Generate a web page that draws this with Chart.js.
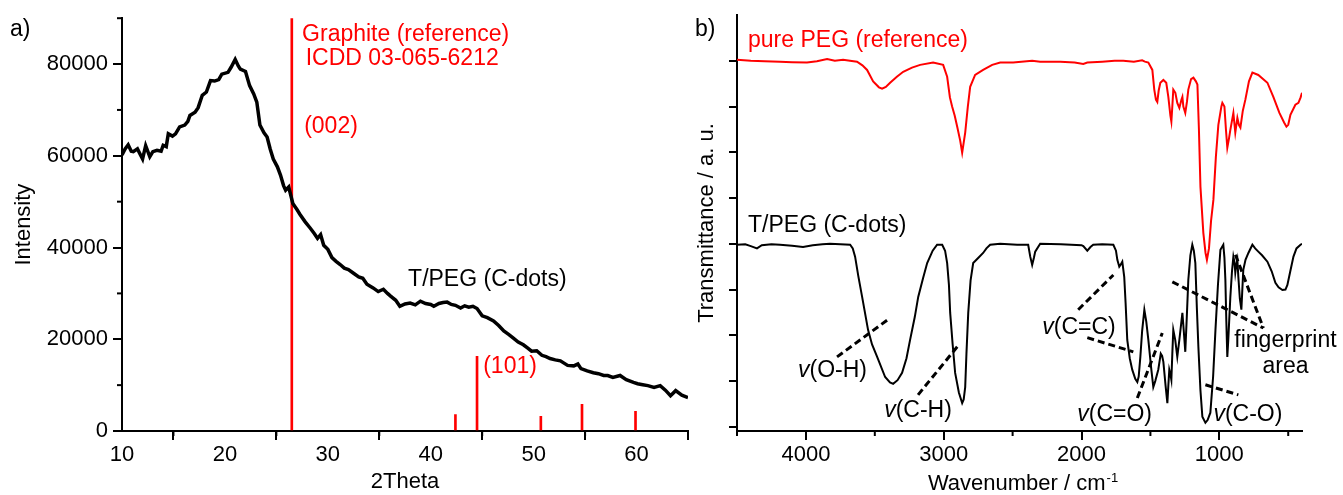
<!DOCTYPE html>
<html>
<head>
<meta charset="utf-8">
<script src="https://cdn.jsdelivr.net/npm/chart.js@4/dist/chart.umd.min.js"></script>
<style>
html, body { margin: 0; padding: 0; background: #fff; }
#xrd { position: absolute; left: 0; top: 0; }
#ftir { position: absolute; left: 690px; top: 0; }
</style>
</head>
<body>
<canvas id="xrd" width="700" height="495"></canvas>
<canvas id="ftir" width="653" height="495"></canvas>
<script>
// ---- a) XRD pattern ----
var xrdTheta = [10.0, 10.3, 10.6, 10.9, 11.1, 11.5, 12.0, 12.3, 12.7, 13.0, 13.4, 13.8, 14.0, 14.3, 14.5, 14.9,
  15.2, 15.6, 16.1, 16.4, 16.6, 17.1, 17.4, 17.8, 18.2, 18.6, 19.0, 19.4, 19.7, 20.3, 20.6, 21.0, 21.3, 21.5,
  22.0, 22.4, 22.8, 23.1, 23.4, 23.8, 24.1, 24.4, 24.7, 25.1, 25.4, 25.7, 25.9, 26.2, 26.6, 27.0, 27.3, 27.8,
  28.3, 28.7, 29.0, 29.3, 29.6, 30.0, 30.4, 30.8, 31.2, 31.6, 32.0, 32.5, 33.0, 33.4, 33.8, 34.4, 34.9, 35.4,
  35.8, 36.1, 36.6, 37.0, 37.5, 38.0, 38.5, 39.0, 39.5, 40.0, 40.3, 40.8, 41.2, 41.6, 42.0, 42.4, 42.9, 43.3,
  43.7, 44.1, 44.5, 45.0, 45.5, 46.1, 46.6, 47.1, 47.6, 48.0, 48.5, 49.0, 49.4, 49.8, 50.3, 50.8, 51.2, 51.6,
  52.1, 52.6, 53.3, 53.9, 54.3, 54.6, 55.2, 55.8, 56.3, 56.8, 57.2, 57.7, 58.4, 59.0, 59.7, 60.1, 60.6, 61.1,
  61.7, 62.3, 62.8, 63.3, 63.8, 64.4, 65.0];
var xrdIntensity = [60200, 61500, 62400, 61000, 60900, 61500, 59300, 62200, 59800, 60900, 61200, 61000, 62300, 62000, 64800, 64300,
  64800, 66300, 66700, 67500, 68800, 69500, 70500, 73200, 73900, 76400, 76300, 76600, 77800, 78200, 79300, 81000, 79600, 78900,
  78400, 75300, 73500, 71700, 66700, 65000, 64100, 61500, 59300, 57600, 55800, 53500, 52500, 53200, 49600, 48300, 47200, 45600,
  44200, 43000, 42000, 42800, 40500, 39600, 37800, 37000, 36300, 35500, 35200, 34400, 33600, 33300, 32000, 31200, 30400, 30900,
  30000, 29400, 28500, 27200, 27700, 27900, 27500, 28300, 27800, 27600, 27200, 27800, 28000, 28100, 27600, 27400, 26800, 27300,
  27000, 27200, 26700, 25100, 24700, 24000, 23000, 21800, 21000, 20300, 19400, 18800, 18100, 17400, 17500, 16500, 16200, 15800,
  15500, 15300, 14300, 14200, 14600, 13600, 13100, 12700, 12500, 12100, 12100, 11700, 12100, 11200, 10600, 10300, 10100, 9900,
  9500, 9900, 8900, 7700, 8800, 7800, 7300];
// graphite reference sticks (ICDD 03-065-6212)
var refTheta = [26.5, 42.4, 44.5, 50.7, 54.7, 59.9];
var refHeight = [90000, 3600, 16300, 3200, 5800, 4300];
var xrdXTicks = [10, 20, 30, 40, 50, 60];
var xrdXMinor = [15, 25, 35, 45, 55, 65];
var xrdYTicks = [0, 20000, 40000, 60000, 80000];
var xrdYMinor = [10000, 30000, 50000, 70000, 90000];

// ---- b) FTIR spectra ----
var pegWave = [4500, 4400, 4300, 4188, 4100, 3992, 3920, 3846, 3790, 3730, 3680, 3629, 3590, 3556, 3512, 3470, 3447, 3420,
  3389, 3340, 3294, 3230, 3171, 3077, 3004, 2975, 2955, 2939, 2920, 2902, 2880, 2866, 2844, 2825, 2808, 2772, 2714, 2648,
  2590, 2496, 2358, 2300, 2154, 2050, 1987, 1958, 1850, 1760, 1697, 1620, 1560, 1540, 1515, 1486, 1472, 1460, 1450, 1440,
  1428, 1406, 1385, 1370, 1355, 1348, 1341, 1334, 1319, 1305, 1290, 1275, 1268, 1261, 1247, 1235, 1225, 1205, 1188, 1170,
  1159, 1148, 1137, 1116, 1100, 1090, 1075, 1060, 1043, 1025, 1007, 985, 978, 963, 952, 942, 930, 920, 898, 884, 869, 858,
  847, 830, 811, 785, 760, 717, 651, 608, 564, 530, 513, 500, 484, 448, 426, 410, 400];
var pegTrans = [8.02, 8.0, 7.99, 7.98, 7.97, 7.96, 7.99, 8.04, 8.0, 8.02, 8.0, 7.98, 7.9, 7.8, 7.55, 7.42, 7.39, 7.43,
  7.52, 7.65, 7.76, 7.85, 7.91, 7.96, 7.91, 7.65, 7.2, 7.0, 6.8, 6.56, 6.25, 5.99, 6.43, 7.0, 7.43, 7.69, 7.8, 7.91,
  7.96, 7.96, 8.0, 7.98, 7.98, 7.96, 7.93, 7.96, 7.98, 8.0, 8.0, 7.98, 8.01, 7.98, 7.96, 7.8, 7.37, 7.15, 7.1, 7.35,
  7.52, 7.58, 7.52, 7.21, 6.8, 6.67, 7.0, 7.37, 7.3, 7.08, 6.97, 7.15, 7.21, 7.0, 6.86, 7.1, 7.37, 7.6, 7.63, 7.55,
  7.48, 6.5, 5.25, 4.24, 3.8, 3.65, 3.9, 4.5, 4.96, 5.9, 6.6, 7.0, 7.08, 7.0, 6.5, 6.1, 6.3, 6.49, 6.86, 6.43, 6.75, 6.6,
  6.54, 6.9, 7.15, 7.55, 7.74, 7.69, 7.52, 7.21, 6.86, 6.65, 6.56, 6.6, 6.82, 7.04, 7.08, 7.2, 7.3];
var cdotWave = [4500, 4440, 4400, 4355, 4320, 4250, 4188, 4100, 4021, 3950, 3880, 3825, 3750, 3679, 3660, 3643, 3620, 3592,
  3549, 3520, 3483, 3425, 3390, 3367, 3335, 3302, 3270, 3244, 3210, 3185, 3150, 3120, 3080, 3048, 3011, 2990, 2975, 2962,
  2953, 2935, 2917, 2890, 2866, 2855, 2844, 2835, 2822, 2805, 2786, 2750, 2714, 2690, 2663, 2590, 2467, 2387, 2372, 2358,
  2345, 2336, 2300, 2150, 2000, 1987, 1958, 1935, 1915, 1850, 1769, 1750, 1740, 1726, 1715, 1704, 1690, 1680, 1668, 1650,
  1632, 1610, 1595, 1585, 1573, 1560, 1544, 1530, 1515, 1495, 1479, 1465, 1443, 1425, 1415, 1406, 1390, 1377, 1370, 1363,
  1355, 1348, 1341, 1334, 1320, 1305, 1290, 1268, 1258, 1247, 1236, 1225, 1210, 1196, 1185, 1174, 1163, 1152, 1137, 1123,
  1101, 1085, 1065, 1045, 1028, 1010, 992, 971, 963, 956, 949, 942, 935, 920, 908, 898, 890, 884, 876, 869, 862, 851, 840,
  833, 826, 810, 789, 760, 740, 717, 690, 651, 620, 593, 570, 542, 520, 506, 485, 462, 440, 411, 400];
var cdotTrans = [3.98, 3.99, 3.95, 3.9, 3.97, 3.99, 3.98, 3.96, 3.93, 3.97, 3.99, 4.0, 3.99, 3.98, 3.9, 3.72, 3.3, 2.84,
  2.12, 1.8, 1.53, 1.09, 0.97, 0.94, 1.02, 1.18, 1.5, 1.9, 2.4, 2.84, 3.25, 3.58, 3.85, 3.98, 3.98, 3.85, 3.58, 3.1,
  2.49, 1.8, 1.18, 0.75, 0.52, 0.6, 0.87, 1.6, 2.49, 3.2, 3.58, 3.69, 3.8, 3.9, 3.98, 4.0, 3.98, 3.98, 3.72, 3.54,
  3.7, 3.83, 4.0, 3.99, 3.97, 3.95, 3.85, 3.93, 3.98, 3.99, 3.98, 3.85, 3.65, 3.5, 3.55, 3.61, 3.28, 2.7, 1.9, 1.5,
  1.25, 1.05, 0.98, 1.1, 1.53, 2.1, 2.56, 2.3, 1.9, 1.3, 0.87, 1.0, 1.25, 1.6, 1.55, 1.42, 0.9, 0.52, 0.9, 1.25,
  1.15, 1.03, 1.6, 2.12, 1.9, 1.53, 1.9, 2.49, 2.1, 1.64, 2.4, 3.21, 3.75, 3.98, 3.85, 3.58, 2.6, 1.75, 0.8, 0.22,
  0.09, 0.15, 0.31, 1.1, 2.12, 3.1, 3.87, 3.98, 3.7, 3.21, 2.3, 1.53, 1.9, 2.84, 3.4, 3.72, 3.6, 3.37, 3.55, 3.65, 3.28, 2.8, 2.56,
  3.0, 3.43, 3.65, 3.8, 3.98, 3.9, 3.83, 3.75, 3.61, 3.4, 3.15, 3.05, 2.99, 3.0, 3.1, 3.4, 3.72, 3.9, 3.98, 4.0];
var ftirXTicks = [1000, 2000, 3000, 4000];
var ftirXMinor = [500, 1500, 2500, 3500, 4500];
var ftirYTicks = [0, 1, 2, 3, 4, 5, 6, 7, 8];

var FONT = "'Liberation Sans', Arial, sans-serif";
Chart.defaults.font.family = FONT;
Chart.defaults.font.size = 22;
Chart.defaults.color = '#000';

function pts(xs, ys) {
  return xs.map(function (v, i) { return { x: v, y: ys[i] }; });
}

// short minor ticks, drawn from the scales
var minorTicks = {
  id: 'minorTicks',
  afterDraw: function (chart, args, o) {
    var ctx = chart.ctx, a = chart.chartArea, sx = chart.scales.x, sy = chart.scales.y;
    ctx.save();
    ctx.strokeStyle = '#000';
    ctx.lineWidth = 2;
    (o.x || []).forEach(function (v) {
      var p = sx.getPixelForValue(v);
      ctx.beginPath(); ctx.moveTo(p, a.bottom); ctx.lineTo(p, a.bottom + o.len); ctx.stroke();
    });
    (o.y || []).forEach(function (v) {
      var p = sy.getPixelForValue(v);
      ctx.beginPath(); ctx.moveTo(a.left, p); ctx.lineTo(a.left - o.len, p); ctx.stroke();
    });
    ctx.restore();
  }
};

// text labels and dashed pointers
var notes = {
  id: 'notes',
  afterDraw: function (chart, args, o) {
    var ctx = chart.ctx, sx = chart.scales.x, sy = chart.scales.y;
    ctx.save();
    ctx.strokeStyle = '#000';
    ctx.lineWidth = 3;
    ctx.setLineDash([7, 4]);
    (o.pointers || []).forEach(function (p) {
      ctx.beginPath();
      ctx.moveTo(sx.getPixelForValue(p[0]), sy.getPixelForValue(p[1]));
      ctx.lineTo(sx.getPixelForValue(p[2]), sy.getPixelForValue(p[3]));
      ctx.stroke();
    });
    ctx.setLineDash([]);
    ctx.textBaseline = 'alphabetic';
    (o.labels || []).forEach(function (l) {
      var px = sx.getPixelForValue(l.x), py = sy.getPixelForValue(l.y);
      ctx.fillStyle = l.color || '#000';
      ctx.font = '23px ' + FONT;
      var w = ctx.measureText(l.text).width, wv = 0;
      if (l.nu) {
        ctx.font = 'italic 23px ' + FONT;
        wv = ctx.measureText('v').width;
      }
      var x0 = l.align === 'center' ? px - (w + wv) / 2 : px;
      ctx.textAlign = 'left';
      if (l.nu) {
        ctx.font = 'italic 23px ' + FONT;
        ctx.fillText('v', x0, py);
        ctx.font = '23px ' + FONT;
      }
      ctx.fillText(l.text, x0 + wv, py);
    });
    (o.free || []).forEach(function (f) {
      ctx.fillStyle = '#000';
      ctx.textAlign = 'left';
      ctx.font = f.size + 'px ' + FONT;
      ctx.fillText(f.text, f.px, f.py);
    });
    if (o.xTitle) {
      var t = o.xTitle;
      ctx.font = '22px ' + FONT;
      var w1 = ctx.measureText(t.text).width;
      ctx.font = '13px ' + FONT;
      var w2 = ctx.measureText(t.sup).width;
      var cx = (chart.chartArea.left + chart.chartArea.right) / 2 + 3;
      var xs = cx - (w1 + w2) / 2;
      ctx.fillStyle = '#000';
      ctx.font = '22px ' + FONT;
      ctx.fillText(t.text, xs, t.py);
      ctx.font = '13px ' + FONT;
      ctx.fillText(t.sup, xs + w1 + 1, t.py - 8);
    }
    ctx.restore();
  }
};

function axisBase() {
  return {
    border: { color: '#000', width: 2 },
    grid: { drawOnChartArea: false, color: '#000', lineWidth: 2, tickLength: 9 },
    ticks: { color: '#000', font: { size: 22 } }
  };
}

var xA = axisBase();
xA.type = 'linear';
xA.min = 10; xA.max = 65; xA.offset = false;
xA.afterBuildTicks = function (s) { s.ticks = xrdXTicks.map(function (v) { return { value: v }; }); };
xA.afterFit = function (s) { s.height = 64; };
xA.ticks.padding = 2;
xA.ticks.callback = function (v) { return String(v); };
xA.title = { display: true, text: '2Theta', font: { size: 22 }, padding: { top: 0, bottom: 0 } };

var yA = axisBase();
yA.min = 0; yA.max = 90000;
yA.afterBuildTicks = function (s) { s.ticks = xrdYTicks.map(function (v) { return { value: v }; }); };
yA.afterFit = function (s) { s.width = 122; };
yA.ticks.padding = 5;
yA.ticks.callback = function (v) { return String(v); };
yA.title = { display: true, text: 'Intensity', font: { size: 22 }, padding: { top: 11, bottom: 0 } };

new Chart(document.getElementById('xrd'), {
  type: 'line',
  data: {
    datasets: [{
      type: 'line',
      label: 'T/PEG (C-dots)',
      data: pts(xrdTheta, xrdIntensity),
      borderColor: '#000',
      borderWidth: 3.5,
      pointRadius: 0,
      tension: 0
    }, {
      type: 'bar',
      label: 'Graphite (reference)',
      data: pts(refTheta, refHeight),
      backgroundColor: '#ff0000',
      borderWidth: 0,
      barThickness: 2
    }]
  },
  options: {
    responsive: false,
    animation: false,
    devicePixelRatio: 1,
    layout: { padding: { left: 0, right: 12, top: 15, bottom: 0 } },
    scales: { x: xA, y: yA },
    plugins: {
      legend: { display: false },
      tooltip: { enabled: false },
      minorTicks: { x: xrdXMinor, y: xrdYMinor, len: 5 },
      notes: {
        labels: [
          { x: 27.5, y: 85100, text: 'Graphite (reference)', color: '#ff0000' },
          { x: 27.85, y: 79700, text: 'ICDD 03-065-6212', color: '#ff0000' },
          { x: 27.7, y: 65000, text: '(002)', color: '#ff0000' },
          { x: 45.1, y: 12700, text: '(101)', color: '#ff0000' },
          { x: 37.8, y: 31600, text: 'T/PEG (C-dots)' }
        ],
        free: [{ text: 'a)', px: 10, py: 36, size: 23 }]
      }
    }
  },
  plugins: [minorTicks, notes]
});

var xB = axisBase();
xB.type = 'linear';
xB.min = 400; xB.max = 4500; xB.reverse = true; xB.offset = false;
xB.afterBuildTicks = function (s) { s.ticks = ftirXTicks.map(function (v) { return { value: v }; }); };
xB.afterFit = function (s) { s.height = 64; };
xB.ticks.padding = 2;
xB.ticks.callback = function (v) { return String(v); };

var yB = axisBase();
yB.min = -0.09; yB.max = 9.0;
yB.afterBuildTicks = function (s) { s.ticks = ftirYTicks.map(function (v) { return { value: v }; }); };
yB.afterFit = function (s) { s.width = 47; };
yB.grid.tickLength = 8;
yB.ticks.display = false;
yB.title = { display: true, text: 'Transmittance / a. u.', font: { size: 22 }, padding: { top: 4, bottom: 0 } };

new Chart(document.getElementById('ftir'), {
  type: 'line',
  data: {
    datasets: [{
      label: 'pure PEG (reference)',
      data: pts(pegWave, pegTrans),
      borderColor: '#ff0000',
      borderWidth: 2,
      pointRadius: 0,
      tension: 0
    }, {
      label: 'T/PEG (C-dots)',
      data: pts(cdotWave, cdotTrans),
      borderColor: '#000',
      borderWidth: 2,
      pointRadius: 0,
      tension: 0
    }]
  },
  options: {
    responsive: false,
    animation: false,
    devicePixelRatio: 1,
    layout: { padding: { left: 0, right: 41, top: 15, bottom: 0 } },
    scales: { x: xB, y: yB },
    plugins: {
      legend: { display: false },
      tooltip: { enabled: false },
      minorTicks: { x: ftirXMinor, y: [], len: 5 },
      notes: {
        pointers: [
          [3774, 1.53, 3389, 2.38],
          [3186, 0.70, 2902, 1.75],
          [2024, 2.56, 1769, 3.32],
          [1958, 1.95, 1624, 1.64],
          [1595, 0.63, 1414, 2.05],
          [1101, 0.92, 862, 0.70],
          [1341, 3.17, 680, 2.16],
          [883, 3.76, 680, 2.16]
        ],
        labels: [
          { x: 4420, y: 8.31, text: 'pure PEG (reference)', color: '#ff0000' },
          { x: 4420, y: 4.26, text: 'T/PEG (C-dots)' },
          { x: 4057, y: 1.09, text: '(O-H)', nu: true },
          { x: 3432, y: 0.22, text: '(C-H)', nu: true },
          { x: 2285, y: 2.03, text: '(C=C)', nu: true },
          { x: 2031, y: 0.13, text: '(C=O)', nu: true },
          { x: 1043, y: 0.13, text: '(C-O)', nu: true },
          { x: 520, y: 1.75, text: 'fingerprint', align: 'center' },
          { x: 520, y: 1.18, text: 'area', align: 'center' }
        ],
        free: [{ text: 'b)', px: 5, py: 36, size: 23 }],
        xTitle: { text: 'Wavenumber / cm', sup: '-1', py: 490 }
      }
    }
  },
  plugins: [minorTicks, notes]
});
</script>
</body>
</html>
